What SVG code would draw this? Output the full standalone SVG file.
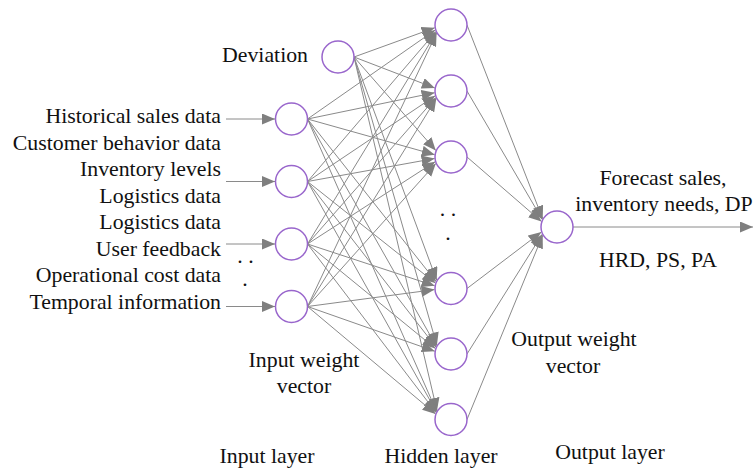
<svg xmlns="http://www.w3.org/2000/svg" width="754" height="470" viewBox="0 0 754 470" font-family="'Liberation Serif', 'Times New Roman', Times, serif">
<style>
text{font-family:'Liberation Serif','Times New Roman',Times,serif;font-size:21.8px;fill:#111}
.e{text-anchor:end}
.m{text-anchor:middle}
.n{fill:#fff;stroke:#9966cc;stroke-width:1.5}
.c line{stroke:#8a8a8a;stroke-width:1;marker-end:url(#ah)}
</style>
<defs>
<marker id="ah" markerUnits="userSpaceOnUse" markerWidth="13" markerHeight="11" refX="13" refY="5.5" orient="auto">
<path d="M0,0 L13,5.5 L0,11 z" fill="#7f7f7f"/>
</marker>
</defs>
<rect width="754" height="470" fill="#fff"/>
<g id="connectors" class="c">
<line x1="226" y1="119" x2="275" y2="119"/>
<line x1="226" y1="181.5" x2="275" y2="181.5"/>
<line x1="226" y1="244" x2="275" y2="244"/>
<line x1="226" y1="306.5" x2="275" y2="306.5"/>
<line x1="354" y1="57" x2="434.7" y2="27.8"/>
<line x1="354" y1="57" x2="434.8" y2="88"/>
<line x1="354" y1="57" x2="435.8" y2="150.5"/>
<line x1="354" y1="57" x2="436.7" y2="280.2"/>
<line x1="354" y1="57" x2="436.9" y2="345.4"/>
<line x1="354" y1="57" x2="437" y2="410.8"/>
<line x1="307.5" y1="119" x2="435.3" y2="29.9"/>
<line x1="307.5" y1="119" x2="434.6" y2="92.7"/>
<line x1="307.5" y1="119" x2="434.7" y2="154.7"/>
<line x1="307.5" y1="119" x2="436" y2="281.6"/>
<line x1="307.5" y1="119" x2="436.4" y2="346.3"/>
<line x1="307.5" y1="119" x2="436.6" y2="411.4"/>
<line x1="307.5" y1="181.5" x2="435.9" y2="31.6"/>
<line x1="307.5" y1="181.5" x2="435.2" y2="95.8"/>
<line x1="307.5" y1="181.5" x2="434.6" y2="158.5"/>
<line x1="307.5" y1="181.5" x2="435.4" y2="283.1"/>
<line x1="307.5" y1="181.5" x2="436" y2="347.1"/>
<line x1="307.5" y1="181.5" x2="436.4" y2="411.8"/>
<line x1="307.5" y1="244" x2="436.3" y2="32.5"/>
<line x1="307.5" y1="244" x2="435.9" y2="97.6"/>
<line x1="307.5" y1="244" x2="435.2" y2="161.7"/>
<line x1="307.5" y1="244" x2="434.7" y2="285.8"/>
<line x1="307.5" y1="244" x2="435.4" y2="348.5"/>
<line x1="307.5" y1="244" x2="436" y2="412.5"/>
<line x1="307.5" y1="306.5" x2="436.6" y2="33"/>
<line x1="307.5" y1="306.5" x2="436.3" y2="98.5"/>
<line x1="307.5" y1="306.5" x2="435.8" y2="163.5"/>
<line x1="307.5" y1="306.5" x2="434.5" y2="289.6"/>
<line x1="307.5" y1="306.5" x2="434.7" y2="351.2"/>
<line x1="307.5" y1="306.5" x2="435.5" y2="413.9"/>
<line x1="467" y1="25" x2="542.7" y2="218.8"/>
<line x1="467" y1="91" x2="542.3" y2="219.5"/>
<line x1="467" y1="157" x2="541.5" y2="221.5"/>
<line x1="467" y1="288.5" x2="541.3" y2="232.1"/>
<line x1="467" y1="354" x2="542.2" y2="234.3"/>
<line x1="467" y1="419.5" x2="542.7" y2="235.2"/>
<line x1="573" y1="227" x2="753" y2="227"/>
</g>
<g id="bias"><circle class="n" cx="338" cy="57" r="16"/><text class="e" x="308" y="62">Deviation</text></g>
<g id="input1"><circle class="n" cx="291.5" cy="119" r="16"/></g>
<g id="input2"><circle class="n" cx="291.5" cy="181.5" r="16"/></g>
<g id="input3"><circle class="n" cx="291.5" cy="244" r="16"/></g>
<g id="input4"><circle class="n" cx="291.5" cy="306.5" r="16"/></g>
<g id="hidden1"><circle class="n" cx="451" cy="25" r="16"/></g>
<g id="hidden2"><circle class="n" cx="451" cy="91" r="16"/></g>
<g id="hidden3"><circle class="n" cx="451" cy="157" r="16"/></g>
<g id="hidden4"><circle class="n" cx="451" cy="288.5" r="16"/></g>
<g id="hidden5"><circle class="n" cx="451" cy="354" r="16"/></g>
<g id="hidden6"><circle class="n" cx="451" cy="419.5" r="16"/></g>
<g id="output"><circle class="n" cx="557" cy="227" r="16"/></g>
<g id="input-labels">
<text class="e" x="221" y="123">Historical sales data</text>
<text class="e" x="221" y="149.5">Customer behavior data</text>
<text class="e" x="221" y="176">Inventory levels</text>
<text class="e" x="221" y="202.5">Logistics data</text>
<text class="e" x="221" y="229">Logistics data</text>
<text class="e" x="221" y="255.5">User feedback</text>
<text class="e" x="221" y="282">Operational cost data</text>
<text class="e" x="221" y="308.5">Temporal information</text>
<text class="m" x="245.5" y="262.5">. .</text>
<text class="m" x="245" y="286">.</text>
</g>
<g id="hidden-dots">
<text class="m" x="448" y="215.5">. .</text>
<text class="m" x="448" y="239.5">.</text>
</g>
<g id="labels">
<text class="m" x="304" y="367">Input weight</text>
<text class="m" x="304" y="393">vector</text>
<text class="m" x="574" y="346">Output weight</text>
<text class="m" x="573" y="373">vector</text>
<text class="m" x="663" y="185">Forecast sales,</text>
<text class="m" x="664" y="211">inventory needs, DP</text>
<text class="m" x="658" y="267">HRD, PS, PA</text>
<text class="m" x="267" y="463">Input layer</text>
<text class="m" x="441" y="463">Hidden layer</text>
<text class="m" x="610" y="459">Output layer</text>
</g>
</svg>
